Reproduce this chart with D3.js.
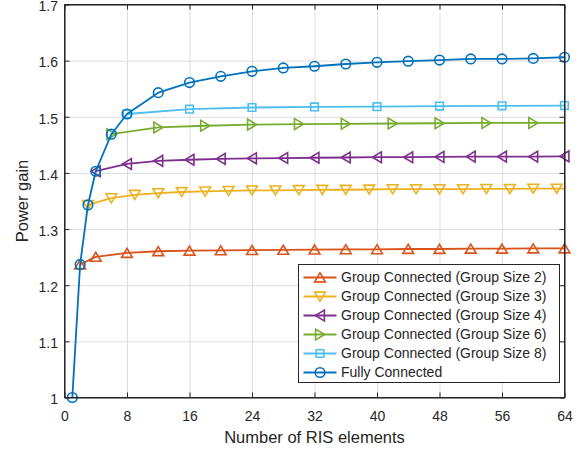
<!DOCTYPE html>
<html>
<head>
<meta charset="utf-8">
<script src="https://cdn.jsdelivr.net/npm/d3@7"></script>
<style>
  body { margin: 0; background: #fff; }
  svg { font-family: "Liberation Sans", Arial, Helvetica, sans-serif; }
  .grid line { stroke: #dedede; stroke-width: 1; }
  .grid path { display: none; }
  .tick text { fill: #262626; font-size: 14px; }
  .frame { fill: none; stroke: #262626; stroke-width: 1; }
</style>
</head>
<body>
<svg class="plot"></svg>
<script>
// data
// ========================
const xTicks = [0, 8, 16, 24, 32, 40, 48, 56, 64]
const yTicks = [1, 1.1, 1.2, 1.3, 1.4, 1.5, 1.6, 1.7]
const yTickLabels = ['1', '1.1', '1.2', '1.3', '1.4', '1.5', '1.6', '1.7']

const seriesNames = [
  'Group Connected (Group Size 2)',
  'Group Connected (Group Size 3)',
  'Group Connected (Group Size 4)',
  'Group Connected (Group Size 6)',
  'Group Connected (Group Size 8)',
  'Fully Connected',
]

const x_g2 = [2, 4, 8, 12, 16, 20, 24, 28, 32, 36, 40, 44, 48, 52, 56, 60, 64]
const y_g2 = [1.237, 1.2505, 1.2575, 1.2605, 1.2615, 1.262, 1.2625, 1.263, 1.2635, 1.264, 1.264, 1.2645, 1.2645, 1.265, 1.265, 1.2655, 1.2655]

const x_g3 = [3, 6, 9, 12, 15, 18, 21, 24, 27, 30, 33, 36, 39, 42, 45, 48, 51, 54, 57, 60, 63, 64]
const y_g3 = [1.343, 1.355, 1.361, 1.364, 1.366, 1.367, 1.368, 1.369, 1.369, 1.3695, 1.370, 1.370, 1.3705, 1.371, 1.371, 1.371, 1.371, 1.3715, 1.3715, 1.372, 1.372, 1.372]

const x_g4 = [4, 8, 12, 16, 20, 24, 28, 32, 36, 40, 44, 48, 52, 56, 60, 64]
const y_g4 = [1.403, 1.416, 1.4215, 1.4235, 1.425, 1.426, 1.4265, 1.427, 1.4275, 1.428, 1.428, 1.4285, 1.429, 1.429, 1.429, 1.4295]

const x_g6 = [6, 12, 18, 24, 30, 36, 42, 48, 54, 60, 64]
const y_g6 = [1.469, 1.481, 1.484, 1.486, 1.487, 1.4875, 1.488, 1.4885, 1.489, 1.489, 1.489]

const x_g8 = [8, 16, 24, 32, 40, 48, 56, 64]
const y_g8 = [1.505, 1.5135, 1.5165, 1.5175, 1.518, 1.519, 1.5195, 1.520]

const x_fc = [1, 2, 3, 4, 6, 8, 12, 16, 20, 24, 28, 32, 36, 40, 44, 48, 52, 56, 60, 64]
const y_fc = [1.000, 1.237, 1.343, 1.403, 1.469, 1.505, 1.543, 1.561, 1.572, 1.581, 1.587, 1.590, 1.594, 1.597, 1.599, 1.601, 1.603, 1.603, 1.604, 1.606]

// series table (markers only on multiples of the group size)
const series = [
  { name: seriesNames[0], color: '#D95319', shape: 'up',     step: 2, xs: x_g2, ys: y_g2 },
  { name: seriesNames[1], color: '#EDB120', shape: 'down',   step: 3, xs: x_g3, ys: y_g3 },
  { name: seriesNames[2], color: '#7E2F8E', shape: 'left',   step: 4, xs: x_g4, ys: y_g4 },
  { name: seriesNames[3], color: '#77AC30', shape: 'right',  step: 6, xs: x_g6, ys: y_g6 },
  { name: seriesNames[4], color: '#4DBEEE', shape: 'square', step: 8, xs: x_g8, ys: y_g8 },
  { name: seriesNames[5], color: '#0072BD', shape: 'circle', step: 1, xs: x_fc, ys: y_fc },
].map(s => ({ ...s, pts: s.xs.map((x, i) => ({ x: x, y: s.ys[i] })) }))

// layout
// ======
const W = 587, H = 453
const box = { left: 64.5, right: 564.5, top: 4.5, bottom: 397.5 }

const xScale = d3.scaleLinear().domain([0, 64]).range([box.left, box.right])
const yScale = d3.scaleLinear().domain([1, 1.7]).range([box.bottom, box.top])

const line = d3.line()
  .x(d => xScale(d.x))
  .y(d => yScale(d.y))

const svg = d3.select('.plot')
    .attr('width', W)
    .attr('height', H)

// marker paths, centred on (0,0)
const markerPath = {
  up:     'M0,-4.6L5.4,4.4L-5.4,4.4Z',
  down:   'M0,4.6L5.4,-4.4L-5.4,-4.4Z',
  left:   'M-4.6,0L4.4,5.4L4.4,-5.4Z',
  right:  'M4.6,0L-4.4,5.4L-4.4,-5.4Z',
  square: 'M-3.8,-3.8H3.8V3.8H-3.8Z',
  circle: 'M4.8,0A4.8,4.8 0 1,1 -4.8,0A4.8,4.8 0 1,1 4.8,0Z',
}

// Draw Grid
// =========
const plotW = box.right - box.left
const plotH = box.bottom - box.top
const grid = svg.append('g').attr('class', 'grid')
grid.append('g')
    .attr('transform', `translate(0, ${box.bottom})`)
    .call(d3.axisBottom(xScale).tickValues(xTicks).tickSize(-plotH).tickFormat(''))
grid.append('g')
    .attr('transform', `translate(${box.left}, 0)`)
    .call(d3.axisLeft(yScale).tickValues(yTicks).tickSize(-plotW).tickFormat(''))

// Draw Functions
// ==============
const fns = svg.append('g').attr('class', 'fns')
  .selectAll('g')
    .data(series)
  .enter().append('g')

fns.append('path')
    .attr('d', s => line(s.pts))
    .attr('fill', 'none')
    .attr('stroke', s => s.color)
    .attr('stroke-width', 1.8)
    .attr('stroke-linejoin', 'round')

fns.selectAll('.mk')
    .data(s => s.pts.filter(p => p.x % s.step === 0).map(p => ({ ...p, s: s })))
  .enter().append('path')
    .attr('class', 'mk')
    .attr('transform', d => `translate(${xScale(d.x)}, ${yScale(d.y)})`)
    .attr('d', d => markerPath[d.s.shape])
    .attr('fill', 'none')
    .attr('stroke', d => d.s.color)
    .attr('stroke-width', 1.6)

// Draw Axis (box with inward ticks on all sides)
// =========
const axes = svg.append('g').attr('class', 'axes')
axes.append('g')
    .attr('transform', `translate(0, ${box.bottom})`)
    .call(d3.axisBottom(xScale).tickValues(xTicks).tickSizeInner(-5).tickSizeOuter(0).tickPadding(14))
axes.append('g')
    .attr('class', 'yax')
    .attr('transform', `translate(${box.left}, 0)`)
    .call(d3.axisLeft(yScale).tickValues(yTicks).tickSizeInner(-5).tickSizeOuter(0).tickPadding(6.5)
      .tickFormat((d, i) => yTickLabels[i]))
axes.append('g')
    .attr('transform', `translate(0, ${box.top})`)
    .call(d3.axisTop(xScale).tickValues(xTicks).tickSizeInner(-5).tickSizeOuter(0).tickFormat(''))
axes.append('g')
    .attr('transform', `translate(${box.right}, 0)`)
    .call(d3.axisRight(yScale).tickValues(yTicks).tickSizeInner(-5).tickSizeOuter(0).tickFormat(''))
axes.selectAll('.domain').attr('stroke', '#262626')
axes.selectAll('.tick line').attr('stroke', '#262626')
axes.selectAll('.tick text').attr('font-family', null)
axes.selectAll('.yax .tick text').attr('dy', '0.45em')
axes.append('rect')
    .attr('class', 'frame')
    .attr('x', box.left).attr('y', box.top)
    .attr('width', plotW).attr('height', plotH)

// axis labels
svg.append('text')
    .attr('x', (box.left + box.right) / 2)
    .attr('y', 443)
    .attr('text-anchor', 'middle')
    .attr('fill', '#262626')
    .attr('font-size', 16.5)
    .text('Number of RIS elements')
svg.append('text')
    .attr('transform', `translate(28, ${(box.top + box.bottom) / 2}) rotate(-90)`)
    .attr('text-anchor', 'middle')
    .attr('fill', '#262626')
    .attr('font-size', 16.5)
    .text('Power gain')

// Legend
// ======
const lg = { x: 298.5, y: 264.5, w: 261, h: 118, row: 19, first: 277.5 }
const legend = svg.append('g').attr('class', 'legend')
legend.append('rect')
    .attr('x', lg.x).attr('y', lg.y)
    .attr('width', lg.w).attr('height', lg.h)
    .attr('fill', '#fff')
    .attr('stroke', '#262626')
const item = legend.selectAll('g')
    .data(series)
  .enter().append('g')
    .attr('transform', (d, i) => `translate(${lg.x}, ${lg.first + i * lg.row})`)
item.append('line')
    .attr('x1', 5).attr('x2', 38)
    .attr('stroke', d => d.color)
    .attr('stroke-width', 1.8)
item.append('path')
    .attr('transform', 'translate(21.5, 0)')
    .attr('d', d => markerPath[d.shape])
    .attr('fill', 'none')
    .attr('stroke', d => d.color)
    .attr('stroke-width', 1.6)
item.append('text')
    .attr('x', 42.5)
    .attr('dy', '0.35em')
    .attr('fill', '#262626')
    .attr('font-size', 14)
    .text(d => d.name)
</script>
</body>
</html>
